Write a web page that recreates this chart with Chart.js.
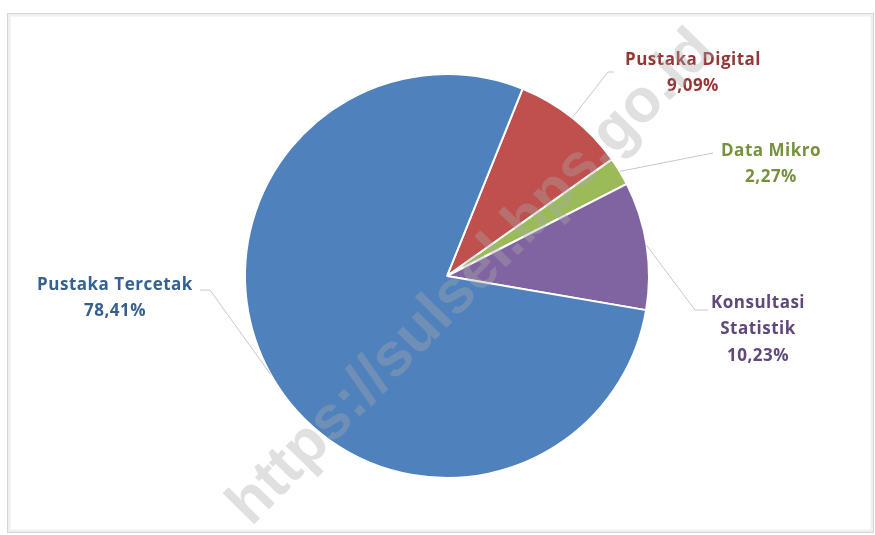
<!DOCTYPE html>
<html>
<head>
<meta charset="utf-8">
<script src="https://cdn.jsdelivr.net/npm/chart.js@4/dist/chart.umd.min.js"></script>
<style>
html,body{margin:0;padding:0;background:#fff;}
#wrap{width:875px;height:535px;position:relative;}
</style>
</head>
<body>
<div id="wrap"><canvas id="c" width="875" height="535"></canvas></div>
<script>
// ---- data ----
const categories = ['Pustaka Digital', 'Data Mikro', 'Konsultasi Statistik', 'Pustaka Tercetak'];
const values = [9.09, 2.27, 10.23, 78.41];
const labelLines = [['Pustaka Digital', '9,09%'], ['Data Mikro', '2,27%'], ['Konsultasi', 'Statistik', '10,23%'], ['Pustaka Tercetak', '78,41%']];
const watermark = 'https://sulsel.bps.go.id';

// ---- styles ----
const sliceColors = ['#C0504D', '#9BBB59', '#8064A2', '#4F81BD'];
const textColors = ['#953735', '#76923C', '#5F497A', '#376092'];
// label anchor (center of first text line) and leader elbow per slice
const labelPos = [
  {x: 693, y: 60, elbow: [608, 72], end: [614, 72]},
  {x: 771, y: 151, elbow: [713, 153], end: [713, 153]},
  {x: 758, y: 303, elbow: [695, 310], end: [708, 310]},
  {x: 115, y: 285, elbow: [210, 290], end: [200, 290]}
];

const framePlugin = {
  id: 'frame',
  beforeDraw(chart) {
    const ctx = chart.ctx;
    ctx.save();
    ctx.fillStyle = '#fff';
    ctx.fillRect(0, 0, chart.width, chart.height);
    ctx.strokeStyle = '#efefef';
    ctx.lineWidth = 3;
    ctx.strokeRect(9, 15, 863, 516);
    ctx.strokeStyle = '#d4d4d4';
    ctx.lineWidth = 1;
    ctx.strokeRect(7.5, 13.5, 866, 519);
    ctx.restore();
  }
};

const labelPlugin = {
  id: 'pieLabels',
  afterDatasetsDraw(chart) {
    const ctx = chart.ctx;
    const meta = chart.getDatasetMeta(0);
    ctx.save();
    meta.data.forEach((arc, i) => {
      const p = arc.getProps(['x', 'y', 'startAngle', 'endAngle', 'outerRadius'], true);
      const mid = (p.startAngle + p.endAngle) / 2;
      const sx = p.x + Math.cos(mid) * p.outerRadius;
      const sy = p.y + Math.sin(mid) * p.outerRadius;
      const lp = labelPos[i];
      ctx.strokeStyle = '#c8c8c8';
      ctx.lineWidth = 1;
      ctx.beginPath();
      ctx.moveTo(sx, sy);
      ctx.lineTo(lp.elbow[0], lp.elbow[1]);
      ctx.lineTo(lp.end[0], lp.end[1]);
      ctx.stroke();
      ctx.fillStyle = textColors[i];
      ctx.font = 'bold 17px "Open Sans"';
      ctx.letterSpacing = '0.5px';
      ctx.textAlign = 'center';
      ctx.textBaseline = 'middle';
      labelLines[i].forEach((t, k) => {
        ctx.fillText(t, lp.x, lp.y + k * 26.5);
      });
    });
    ctx.restore();
  },
  afterDraw(chart) {
    const ctx = chart.ctx;
    ctx.save();
    ctx.translate(472, 278);
    ctx.rotate(-Math.PI / 4 - 0.01);
    ctx.font = 'bold 56px "Liberation Sans"';
    const w = ctx.measureText(watermark).width;
    const s = 665 / w;
    ctx.scale(s, s);
    ctx.fillStyle = 'rgba(170,170,170,0.36)';
    ctx.textAlign = 'center';
    ctx.textBaseline = 'middle';
    ctx.fillText(watermark, 0, 0);
    ctx.restore();
  }
};

new Chart(document.getElementById('c'), {
  type: 'pie',
  data: {
    labels: categories,
    datasets: [{
      data: values,
      backgroundColor: sliceColors,
      borderColor: '#ffffff',
      borderWidth: 2
    }]
  },
  options: {
    responsive: false,
    animation: false,
    rotation: 22,
    layout: {padding: {top: 73, bottom: 56, left: 244, right: 225}},
    plugins: {
      legend: {display: false},
      tooltip: {enabled: false},
      title: {display: false}
    }
  },
  plugins: [framePlugin, labelPlugin]
});
</script>
</body>
</html>
